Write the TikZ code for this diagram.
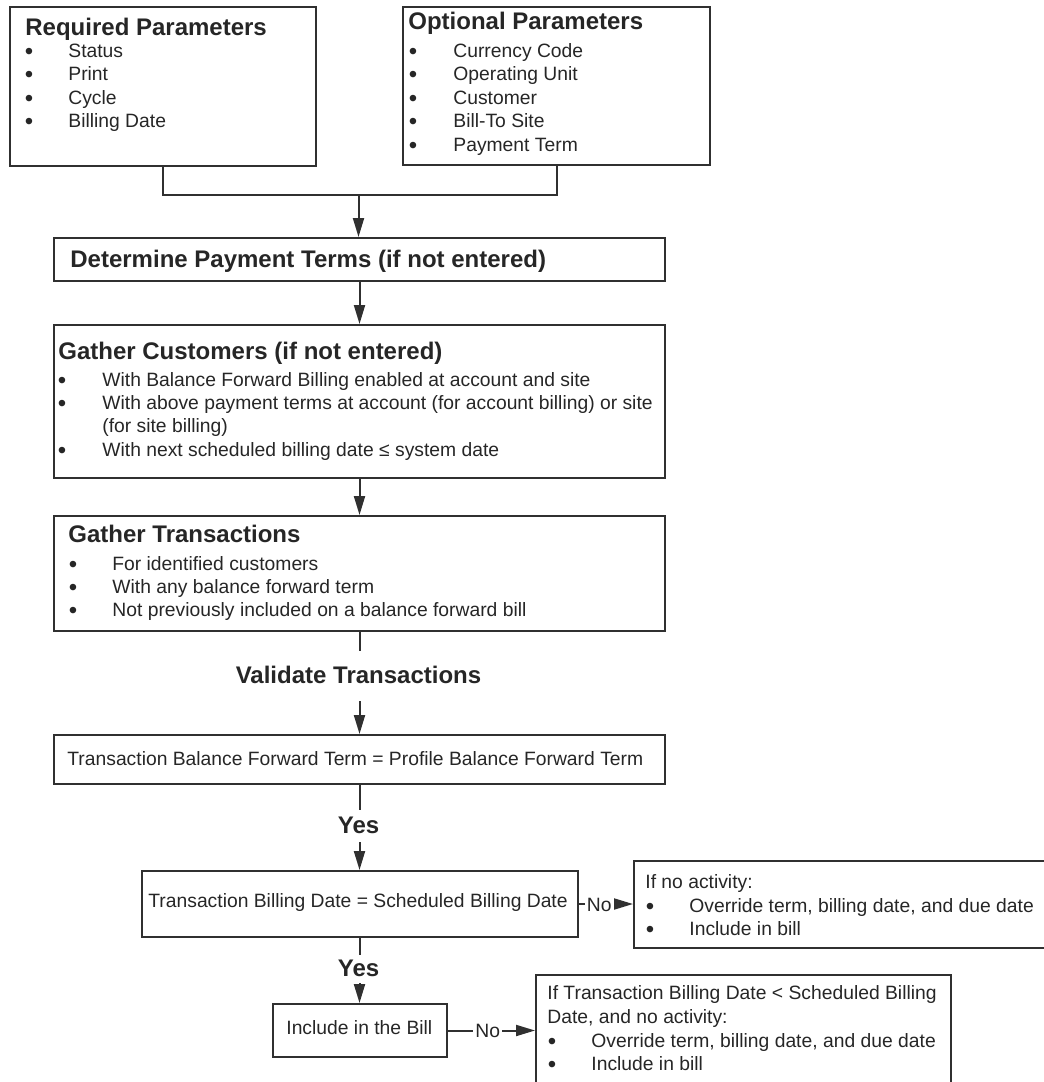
\documentclass[tikz,border=0pt]{standalone}
\usepackage{fontspec}
\usetikzlibrary{arrows.meta}
\newfontfamily\arialf{Liberation Sans}
\newcommand\bdyfnt{\arialf\fontsize{9.65pt}{11.6pt}\selectfont}
\newcommand\bulfnt{\arialf\fontsize{12pt}{14pt}\selectfont}
\newcommand\hdfnt{\arialf\bfseries\fontsize{12pt}{14.4pt}\selectfont}
\definecolor{linec}{HTML}{303030}
\definecolor{txtc}{HTML}{262626}
\tikzset{
  box/.style={draw=linec, line width=1pt, inner sep=0pt, anchor=north west},
  tx/.style={anchor=west, inner sep=0pt, text height=0.716em, text depth=0pt, text=txtc, font=\bdyfnt},
  bul/.style={anchor=center, inner sep=0pt, text height=0.716em, text depth=0pt, text=txtc, font=\bulfnt, yshift=-1pt},
  hd/.style={tx, font=\hdfnt},
  lbl/.style={inner sep=0pt, text height=0.716em, text depth=0pt, text=txtc, font=\hdfnt},
  nolbl/.style={inner sep=1pt, fill=white, text height=0.716em, text depth=0pt, text=txtc, font=\bdyfnt},
  conn/.style={draw=linec, line width=1pt},
  arr/.style={conn, -{Triangle[length=9.5pt,width=5.5pt]}},
}
\begin{document}
\begin{tikzpicture}[x=0.5pt,y=-0.5pt]
\useasboundingbox (0,0) rectangle (1044,1082);
\begin{scope}
\clip (0,0) rectangle (1044,1082);

% ---- parameter boxes
\node[box, minimum width=153pt, minimum height=79.5pt] (req) at (9,6) {};
\node[hd] (reqT) at (25,28) {Required Parameters};
\foreach \t [count=\i] in {Status, Print, Cycle, Billing Date} {
  \node[bul] (reqB\i) at (29,26.5+23.5*\i) {•};
  \node[tx] (reqI\i) at (68,26.5+23.5*\i) {\t};
}

\node[box, minimum width=153.5pt, minimum height=79pt] (opt) at (402,6) {};
\node[hd] (optT) at (408,22) {Optional Parameters};
\foreach \t [count=\i] in {Currency Code, Operating Unit, Customer, Bill-To Site, Payment Term} {
  \node[bul] (optB\i) at (413,26.5+23.5*\i) {•};
  \node[tx] (optI\i) at (453,26.5+23.5*\i) {\t};
}

% ---- main column
\node[box, minimum width=305.5pt, minimum height=21.5pt] (det) at (53,237) {};
\node[hd] (detT) at (70,260) {Determine Payment Terms (if not entered)};

\node[box, minimum width=305.5pt, minimum height=76.5pt] (gc) at (53,324) {};
\node[hd] (gcT) at (58,352) {Gather Customers (if not entered)};
\node[bul] (gcB1) at (62,379) {•};
\node[tx] (gcI1) at (102,379) {With Balance Forward Billing enabled at account and site};
\node[bul] (gcB2) at (62,402) {•};
\node[tx] (gcI2) at (102,402) {With above payment terms at account (for account billing) or site};
\node[tx] (gcI2b) at (102,425.5) {(for site billing)};
\node[bul] (gcB3) at (62,449) {•};
\node[tx] (gcI3) at (102,449) {With next scheduled billing date ≤ system date};

\node[box, minimum width=305.5pt, minimum height=57.5pt] (gt) at (53,515) {};
\node[hd] (gtT) at (68,535) {Gather Transactions};
\foreach \t [count=\i] in {For identified customers, With any balance forward term, Not previously included on a balance forward bill} {
  \node[bul] (gtB\i) at (73,540+23*\i) {•};
  \node[tx] (gtI\i) at (112,540+23*\i) {\t};
}

\node[lbl, minimum height=25pt] (val) at (358.5,676) {Validate Transactions};

\node[box, minimum width=305.5pt, minimum height=24.5pt] (tbf) at (53,734) {};
\node[tx] (tbfT) at (67,758) {Transaction Balance Forward Term = Profile Balance Forward Term};

\node[lbl, minimum height=16pt] (yes1) at (358.5,826) {Yes};

\node[box, minimum width=218pt, minimum height=33pt] (tbd) at (140.5,870) {};
\node[tx] (tbdT) at (148,900) {Transaction Billing Date = Scheduled Billing Date};

\node[lbl, minimum height=14pt] (yes2) at (358.5,969) {Yes};

\node[box, minimum width=87pt, minimum height=26.5pt] (inc) at (271.5,1003) {};
\node[tx] (incT) at (286,1027) {Include in the Bill};

% ---- side boxes
\node[box, minimum width=213.5pt, minimum height=43.5pt] (na1) at (633,860) {};
\node[tx] (na1T) at (645,881) {If no activity:};
\node[bul] (na1B1) at (650,905) {•};
\node[tx] (na1I1) at (689,905) {Override term, billing date, and due date};
\node[bul] (na1B2) at (650,928) {•};
\node[tx] (na1I2) at (689,928) {Include in bill};

\node[box, minimum width=207.5pt, minimum height=63pt] (na2) at (535,974) {};
\node[tx] (na2T1) at (547,992) {If Transaction Billing Date < Scheduled Billing};
\node[tx] (na2T2) at (547,1016) {Date, and no activity:};
\node[bul] (na2B1) at (552,1040) {•};
\node[tx] (na2I1) at (591,1040) {Override term, billing date, and due date};
\node[bul] (na2B2) at (552,1063) {•};
\node[tx] (na2I2) at (591,1063) {Include in bill};

% ---- connectors (vertical runs are forced straight with |-)
\coordinate (mrg) at (358.5,195);
\draw[conn] (req.south) |- (mrg) -| (opt.south);
\draw[arr] (mrg) -- (mrg |- det.north);
\draw[arr] (det.south) -- (det.south |- gc.north);
\draw[arr] (gc.south) -- (gc.south |- gt.north);
\draw[conn] (gt.south) -- (gt.south |- val.north);
\draw[arr] (gt.south |- val.south) -- (gt.south |- tbf.north);
\draw[conn] (tbf.south) -- (tbf.south |- yes1.north);
\draw[arr] (tbf.south |- yes1.south) -- (tbf.south |- tbd.north);
\draw[conn] (tbd.south) -- (tbd.south |- yes2.north);
\draw[arr] (tbd.south |- yes2.south) -- (tbd.south |- inc.north);
\draw[arr] (tbd.east) -- node[nolbl, pos=0.38] (no1) {No} (tbd.east -| na1.west);
\draw[arr] (inc.east) -- node[nolbl, pos=0.46] (no2) {No} (inc.east -| na2.west);
\end{scope}
\end{tikzpicture}
\end{document}
